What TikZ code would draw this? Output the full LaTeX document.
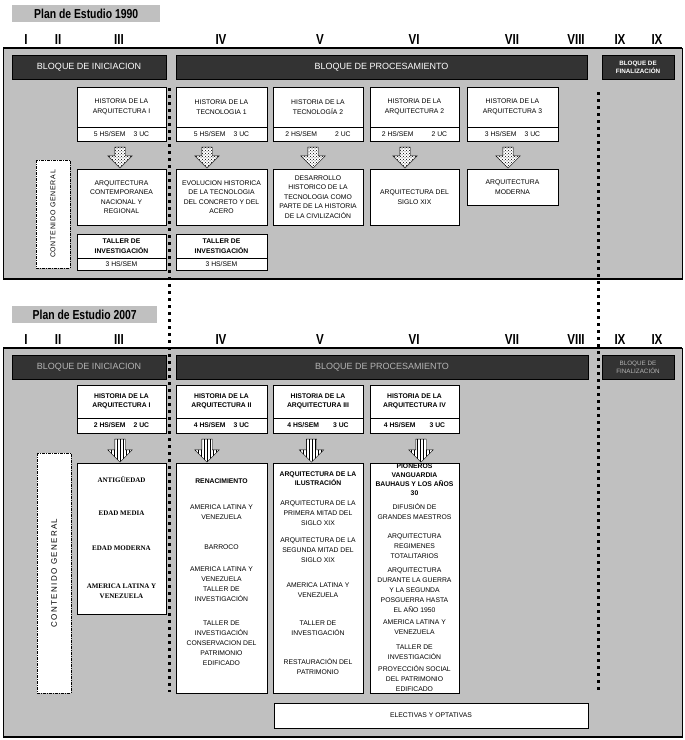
\documentclass[tikz,border=0pt]{standalone}
\usepackage{fontspec}
\setmainfont{Liberation Sans}
\newfontfamily\narrowface[FakeStretch=0.8]{Liberation Sans}
\newfontfamily\romanface{Liberation Serif}
\usetikzlibrary{shapes.arrows, patterns, positioning}
\definecolor{panelGray}{HTML}{C0C0C0}
\definecolor{blockDark}{HTML}{333333}
\definecolor{fadedText}{HTML}{B4B4B4}

\begin{document}
\begin{tikzpicture}[x=1pt, y=-1pt,
    panel/.style={draw=black, line width=0.6pt, fill=panelGray, anchor=north west,
                  minimum width=679pt, inner sep=0pt, outer sep=0pt},
    rim/.style={line width=2.2pt},
    plantitle/.style={fill=panelGray, anchor=north west, inner sep=0pt, minimum height=17pt,
                  font=\narrowface\bfseries\fontsize{13}{13}\selectfont},
    numeral/.style={font=\narrowface\bfseries\fontsize{14.5}{14.5}\selectfont, inner sep=0pt},
    bloque/.style={draw=black, fill=blockDark, text=#1, anchor=north west, inner sep=0pt,
                  outer sep=0pt, minimum height=24pt, align=center, font=\fontsize{9}{10}\selectfont},
    bloque/.default=white,
    box/.style={draw=black, line width=0.5pt, fill=white, anchor=north west, inner sep=0pt,
                  outer sep=0pt, align=center, font=\fontsize{6.8}{9.5}\selectfont},
    heavybox/.style={box, font=\bfseries\fontsize{6.8}{9.5}\selectfont},
    item/.style={align=center, inner sep=0pt, font=\fontsize{6.8}{10}\selectfont},
    contenido/.style={draw=black, line width=0.9pt, dash pattern=on 3pt off 1pt on 1pt off 1pt,
                  fill=white, rotate=90, minimum height=34pt, inner sep=0pt},
    sep/.style={line width=3pt, dash pattern=on 3pt off 4pt},
    dotarrow/.style={single arrow, draw=black, line width=0.4pt, shape border rotate=270,
                  minimum height=21pt, minimum width=24pt, inner sep=5pt,
                  single arrow head extend=7pt, preaction={fill=white}, pattern=crosshatch dots},
    linearrow/.style={dotarrow, minimum height=23pt, pattern=vertical lines}
  ]
  \useasboundingbox (0,0) rectangle (685,740);

  % ---------- Plan 1990 ----------
  \node[plantitle, minimum width=148pt] (title1990) at (12,5) {Plan de Estudio 1990};
  \node[panel, minimum height=231pt] (plan1990) at (3,48) {};
  \draw[rim] (plan1990.north west) -- (plan1990.north east);
  \draw[rim] (plan1990.south west) -- (plan1990.south east);

  % ---------- Plan 2007 ----------
  \node[plantitle, minimum width=145pt] (title2007) at (12,306) {Plan de Estudio 2007};
  \node[panel, minimum height=389pt] (plan2007) at (3,348) {};
  \draw[rim] (plan2007.north west) -- (plan2007.north east);
  \draw[rim] (plan2007.south west) -- (plan2007.south east);

  % semesters
  \foreach \n/\x [count=\i] in {I/26, II/58, III/119, IV/221, V/320, VI/414, VII/512, VIII/576, IX/620, IX/657} {
    \node[numeral] (na\i) at (\x,40) {\n};
    \node[numeral] (nb\i) at (\x,340) {\n};
  }

  % block separators
  \coordinate (sepLtop) at (169,88);
  \coordinate (sepLbot) at (169,692);
  \coordinate (sepRtop) at (598,92);
  \coordinate (sepRbot) at (598,692);
  \draw[sep] (sepLtop) -- (sepLbot);
  \draw[sep] (sepRtop) -- (sepRbot);

  % bloques 1990
  \node[bloque, minimum width=154pt] (ini1) at (12,55) {BLOQUE DE INICIACION};
  \node[bloque, minimum width=411pt] (pro1) at (176,55) {BLOQUE DE PROCESAMIENTO};
  \node[bloque, minimum width=72pt, font=\bfseries\fontsize{6.3}{8}\selectfont] (fin1) at (602,55) {BLOQUE DE\\FINALIZACIÓN};

  % courses 1990
  \node[box, minimum width=89pt, minimum height=40pt] (h1) at (77,87) {HISTORIA DE LA\\ARQUITECTURA I};
  \node[box, minimum width=89pt, minimum height=14pt, below=0pt of h1] (h1u) {5 HS/SEM\hspace{8pt}3 UC};
  \node[box, minimum width=91pt, minimum height=40pt] (t1) at (176,87) {HISTORIA DE LA\\TECNOLOGIA 1};
  \node[box, minimum width=91pt, minimum height=14pt, below=0pt of t1] (t1u) {5 HS/SEM\hspace{8pt}3 UC};
  \node[box, minimum width=90pt, minimum height=40pt] (t2) at (273,87) {HISTORIA DE LA\\TECNOLOGÍA 2};
  \node[box, minimum width=90pt, minimum height=14pt, below=0pt of t2] (t2u) {2 HS/SEM\hspace{18pt}2 UC};
  \node[box, minimum width=89pt, minimum height=40pt] (a2) at (370,87) {HISTORIA DE LA\\ARQUITECTURA 2};
  \node[box, minimum width=89pt, minimum height=14pt, below=0pt of a2] (a2u) {2 HS/SEM\hspace{18pt}2 UC};
  \node[box, minimum width=91pt, minimum height=40pt] (a3) at (467,87) {HISTORIA DE LA\\ARQUITECTURA 3};
  \node[box, minimum width=91pt, minimum height=14pt, below=0pt of a3] (a3u) {3 HS/SEM\hspace{8pt}3 UC};

  % contents 1990
  \node[box, minimum width=89pt, minimum height=56pt] (c1) at (77,169) {ARQUITECTURA\\CONTEMPORANEA\\NACIONAL Y\\REGIONAL};
  \node[box, minimum width=91pt, minimum height=56pt] (c2) at (176,169) {EVOLUCION HISTORICA\\DE LA TECNOLOGIA\\DEL CONCRETO Y DEL\\ACERO};
  \node[box, minimum width=90pt, minimum height=56pt] (c3) at (273,169) {DESARROLLO\\HISTORICO DE LA\\TECNOLOGIA COMO\\PARTE DE LA HISTORIA\\DE LA CIVILIZACIÓN};
  \node[box, minimum width=89pt, minimum height=56pt] (c4) at (370,169) {ARQUITECTURA DEL\\SIGLO XIX};
  \node[box, minimum width=91pt, minimum height=36pt] (c5) at (467,169) {ARQUITECTURA\\MODERNA};

  \path (h1u.south) -- (c1.north) node[midway, dotarrow, xshift=-1.5pt] (ar1) {};
  \path (t1u.south) -- (c2.north) node[midway, dotarrow, xshift=-14.5pt] (ar2) {};
  \path (t2u.south) -- (c3.north) node[midway, dotarrow, xshift=-5pt] (ar3) {};
  \path (a2u.south) -- (c4.north) node[midway, dotarrow, xshift=-9.5pt] (ar4) {};
  \path (a3u.south) -- (c5.north) node[midway, dotarrow, xshift=-4.5pt] (ar5) {};

  % talleres 1990
  \node[heavybox, minimum width=89pt, minimum height=24pt] (tl1) at (77,234) {TALLER DE\\INVESTIGACIÓN};
  \node[box, minimum width=89pt, minimum height=12pt, below=0pt of tl1] (tl1u) {3 HS/SEM};
  \node[heavybox, minimum width=91pt, minimum height=24pt] (tl2) at (176,234) {TALLER DE\\INVESTIGACIÓN};
  \node[box, minimum width=91pt, minimum height=12pt, below=0pt of tl2] (tl2u) {3 HS/SEM};

  \node[contenido, minimum width=108pt, font=\addfontfeature{LetterSpace=10}\fontsize{7}{7}\selectfont] (cg1) at (53,214) {CONTENIDO GENERAL};

  % bloques 2007
  \node[bloque=fadedText, minimum width=154pt] (ini2) at (12,355) {BLOQUE DE INICIACION};
  \node[bloque=fadedText, minimum width=412pt] (pro2) at (176,355) {BLOQUE DE PROCESAMIENTO};
  \node[bloque=fadedText, minimum width=72pt, font=\fontsize{6.3}{8}\selectfont] (fin2) at (602,355) {BLOQUE DE\\FINALIZACIÓN};

  % courses 2007
  \node[heavybox, minimum width=89pt, minimum height=33pt] (b1) at (77,385) {HISTORIA DE LA\\ARQUITECTURA I};
  \node[heavybox, minimum width=89pt, minimum height=15pt, below=0pt of b1] (b1u) {2 HS/SEM\hspace{8pt}2 UC};
  \node[heavybox, minimum width=91pt, minimum height=33pt] (b2) at (176,385) {HISTORIA DE LA\\ARQUITECTURA II};
  \node[heavybox, minimum width=91pt, minimum height=15pt, below=0pt of b2] (b2u) {4 HS/SEM\hspace{8pt}3 UC};
  \node[heavybox, minimum width=90pt, minimum height=33pt] (b3) at (273,385) {HISTORIA DE LA\\ARQUITECTURA III};
  \node[heavybox, minimum width=90pt, minimum height=15pt, below=0pt of b3] (b3u) {4 HS/SEM\hspace{14pt}3 UC};
  \node[heavybox, minimum width=89pt, minimum height=33pt] (b4) at (370,385) {HISTORIA DE LA\\ARQUITECTURA IV};
  \node[heavybox, minimum width=89pt, minimum height=15pt, below=0pt of b4] (b4u) {4 HS/SEM\hspace{14pt}3 UC};

  % contents 2007
  \node[box, minimum width=89pt, minimum height=151pt] (d1) at (77,463) {};
  \node[box, minimum width=91pt, minimum height=230pt] (d2) at (176,463) {};
  \node[box, minimum width=90pt, minimum height=230pt] (d3) at (273,463) {};
  \node[box, minimum width=89pt, minimum height=230pt] (d4) at (370,463) {};

  \path (b1u.south) -- (d1.north) node[midway, linearrow, xshift=-1.5pt] (br1) {};
  \path (b2u.south) -- (d2.north) node[midway, linearrow, xshift=-14.5pt] (br2) {};
  \path (b3u.south) -- (d3.north) node[midway, linearrow, xshift=-6.5pt] (br3) {};
  \path (b4u.south) -- (d4.north) node[midway, linearrow, xshift=6.5pt] (br4) {};

  \node[item, font=\romanface\bfseries\fontsize{7}{10}\selectfont] (d1a) at (121.5,480) {ANTIGÜEDAD};
  \node[item, font=\romanface\bfseries\fontsize{7}{10}\selectfont] (d1b) at (121.5,513) {EDAD MEDIA};
  \node[item, font=\romanface\bfseries\fontsize{7}{10}\selectfont] (d1c) at (121.5,548) {EDAD MODERNA};
  \node[item, font=\romanface\bfseries\fontsize{7}{10}\selectfont] (d1d) at (121.5,591) {AMERICA LATINA Y\\VENEZUELA};

  \node[item, font=\bfseries\fontsize{6.8}{10}\selectfont] (d2a) at (221.5,481) {RENACIMIENTO};
  \node[item] (d2b) at (221.5,512) {AMERICA LATINA Y\\VENEZUELA};
  \node[item] (d2c) at (221.5,547) {BARROCO};
  \node[item] (d2d) at (221.5,584) {AMERICA LATINA Y\\VENEZUELA\\TALLER DE\\INVESTIGACIÓN};
  \node[item] (d2e) at (221.5,643) {TALLER DE\\INVESTIGACIÓN\\CONSERVACION DEL\\PATRIMONIO\\EDIFICADO};

  \node[item, font=\bfseries\fontsize{6.8}{9.5}\selectfont] (d3a) at (318,478.5) {ARQUITECTURA DE LA\\ILUSTRACIÓN};
  \node[item] (d3b) at (318,513) {ARQUITECTURA DE LA\\PRIMERA MITAD DEL\\SIGLO XIX};
  \node[item] (d3c) at (318,550) {ARQUITECTURA DE LA\\SEGUNDA MITAD DEL\\SIGLO XIX};
  \node[item] (d3d) at (318,590) {AMERICA LATINA Y\\VENEZUELA};
  \node[item] (d3e) at (318,628) {TALLER DE\\INVESTIGACIÓN};
  \node[item] (d3f) at (318,667) {RESTAURACIÓN DEL\\PATRIMONIO};

  \node[item, font=\bfseries\fontsize{6.8}{9}\selectfont] (d4a) at (414.5,480) {PIONEROS\\VANGUARDIA\\BAUHAUS Y LOS AÑOS\\30};
  \node[item] (d4b) at (414.5,512) {DIFUSIÓN DE\\GRANDES MAESTROS};
  \node[item] (d4c) at (414.5,546) {ARQUITECTURA\\REGIMENES\\TOTALITARIOS};
  \node[item] (d4d) at (414.5,590) {ARQUITECTURA\\DURANTE LA GUERRA\\Y LA SEGUNDA\\POSGUERRA HASTA\\EL AÑO 1950};
  \node[item] (d4e) at (414.5,627) {AMERICA LATINA Y\\VENEZUELA};
  \node[item] (d4f) at (414.5,652) {TALLER DE\\INVESTIGACIÓN};
  \node[item] (d4g) at (414.5,679) {PROYECCIÓN SOCIAL\\DEL PATRIMONIO\\EDIFICADO};

  \node[box, minimum width=314pt, minimum height=25pt] (elec) at (274,703) {ELECTIVAS Y OPTATIVAS};

  \node[contenido, minimum width=240pt, font=\addfontfeature{LetterSpace=17}\fontsize{8}{8}\selectfont] (cg2) at (54,573) {CONTENIDO GENERAL};
\end{tikzpicture}
\end{document}
